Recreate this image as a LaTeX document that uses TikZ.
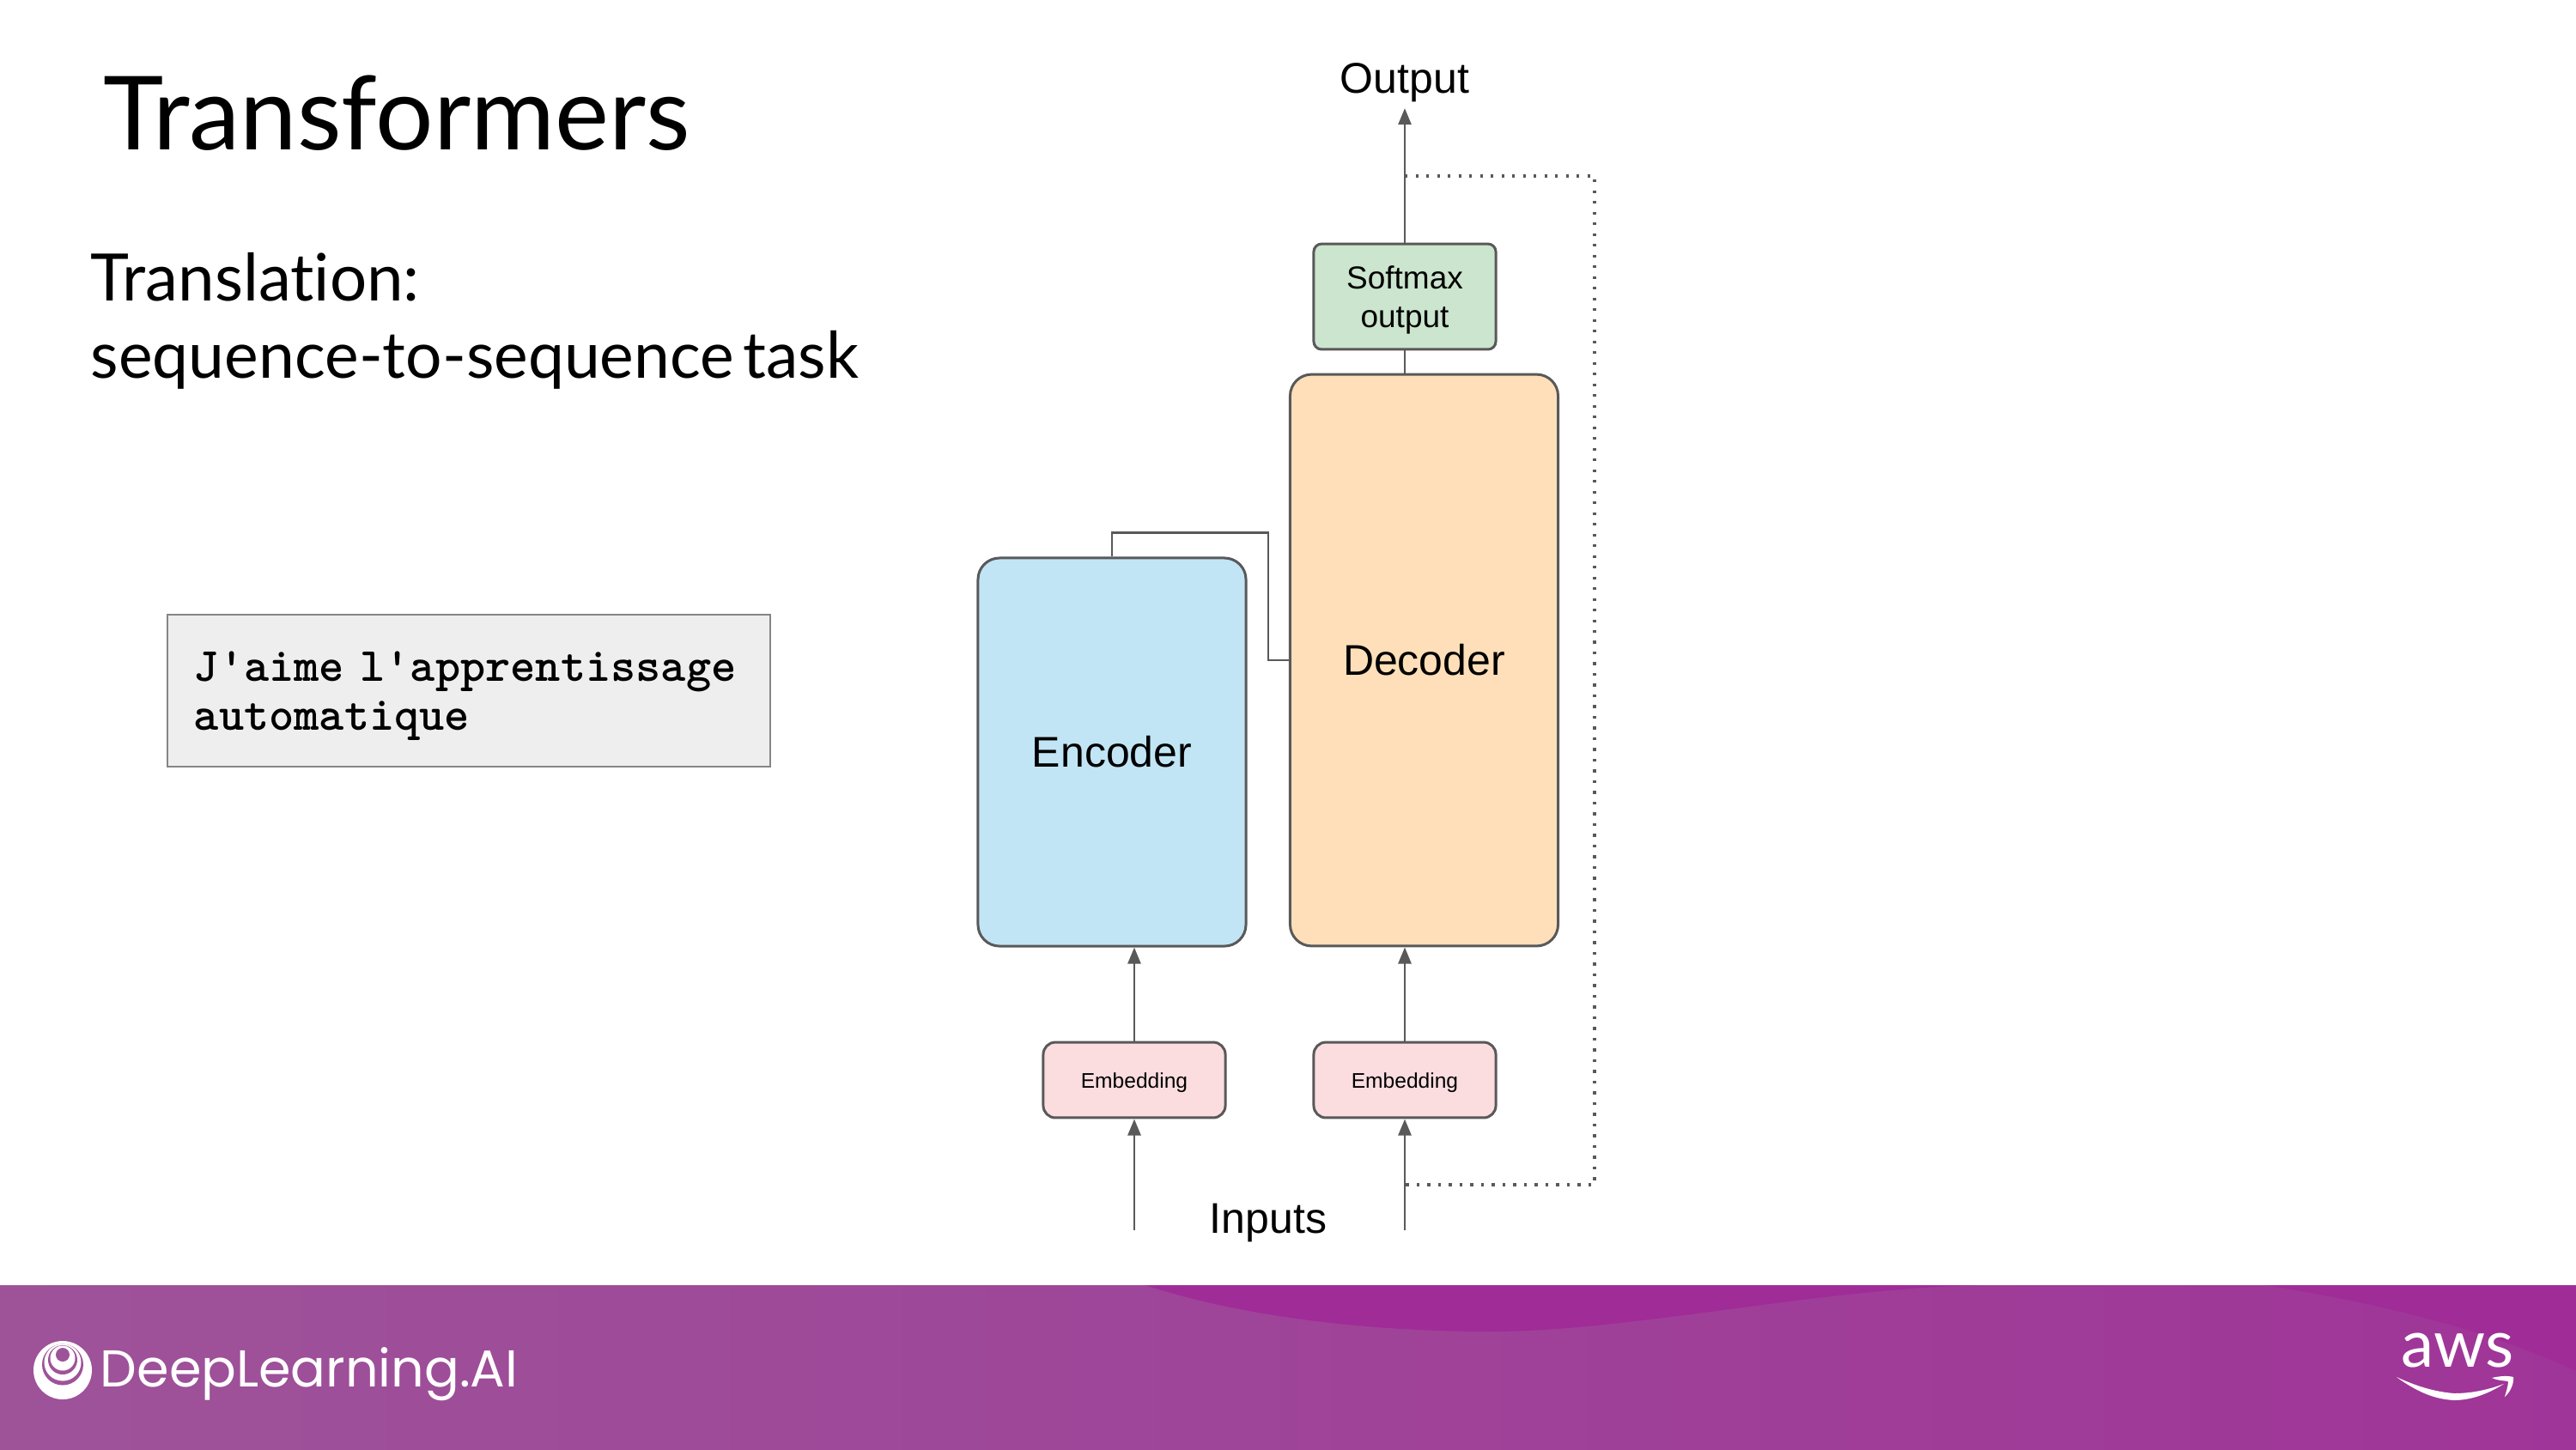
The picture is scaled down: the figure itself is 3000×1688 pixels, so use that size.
\documentclass[tikz,border=0pt]{standalone}
\usepackage{fontspec}
\usetikzlibrary{arrows.meta,calc}
\setmainfont{Liberation Sans}
\newfontfamily\latofont{Lato}[Ligatures=NoCommon,WordSpace=0.55]
\newfontfamily\popfont{Poppins}
\definecolor{edge}{HTML}{595959}
\definecolor{barleft}{HTML}{9E5399}
\definecolor{barright}{HTML}{9F3598}
\definecolor{barwave}{HTML}{A02C98}
\definecolor{encfill}{HTML}{C1E5F5}
\definecolor{decfill}{HTML}{FEDFB9}
\definecolor{softfill}{HTML}{CCE5CE}
\definecolor{embfill}{HTML}{FBDDE0}
\definecolor{codefill}{HTML}{EEEEEE}
\definecolor{codeedge}{HTML}{858585}
\tikzset{
  x=0.24pt, y=-0.24pt,
  block/.style={draw=edge, line width=0.72pt, inner sep=0pt, align=center, text=black},
  bigblock/.style={block, rounded corners=6pt, minimum width=74.9pt, font=\fontsize{12}{14.4}\selectfont},
  smallblock/.style={block, rounded corners=3.4pt, minimum width=50.9pt, minimum height=21.1pt,
    fill=embfill, font=\fontsize{5.9}{7}\selectfont},
  link/.style={draw=edge, line width=0.7pt},
  flow/.style={link, -{Triangle[length=4.6pt,width=3.6pt]}},
  feedback/.style={draw=edge, line width=0.8pt, dash pattern=on 0.8pt off 2.2pt},
  axislabel/.style={text=black, inner sep=0pt, font=\fontsize{12}{14.4}\selectfont},
  heading/.style={anchor=base west, inner sep=0pt, text=black, font=\latofont\fontsize{28.6}{33}\selectfont},
  subheading/.style={anchor=base west, inner sep=0pt, text=black, font=\latofont\fontsize{18}{21.6}\selectfont},
}
\begin{document}
\begin{tikzpicture}
  \useasboundingbox (0,0) rectangle (3000,1688);
  \fill[white] (0,0) rectangle (3000,1688);

  % Footer band with its darker waves
  \shade[left color=barleft, right color=barright] (0,1497) rectangle (3000,1688);
  \fill[barwave] (1334,1497) .. controls (1450,1535) and (1600,1551) .. (1736,1551)
     .. controls (1900,1551) and (2120,1500) .. (2310,1497) -- cycle;
  \fill[barwave] (2640,1497) .. controls (2780,1520) and (2900,1550) .. (3000,1597) -- (3000,1497) -- cycle;

  % Footer logos
  \fill[white] (73,1596) circle [radius=34];
  \fill[barleft] (73,1589.5) circle [radius=24];
  \fill[white] (73,1587) circle [radius=21.5];
  \fill[barleft] (73,1584) circle [radius=17];
  \fill[white] (73,1582) circle [radius=14.5];
  \fill[barleft] (73,1578) circle [radius=8];
  \node[anchor=base west, inner sep=0pt, text=white, font=\popfont\fontsize{14.5}{16}\selectfont] (brand) at (116,1615) {DeepLearning.AI};
  \node[anchor=base west, inner sep=0pt, text=white, font=\latofont\fontsize{18.4}{23}\selectfont] (cloud) at (2796,1592) {aws};
  \fill[white] (2791,1604) .. controls (2820,1625) and (2840,1630) .. (2858,1631)
     .. controls (2880,1631) and (2900,1622) .. (2916,1612)
     .. controls (2900,1618) and (2880,1623) .. (2858,1623)
     .. controls (2835,1621) and (2815,1615) .. (2791,1604) -- cycle;
  \fill[white] (2902,1605) .. controls (2910,1603) and (2920,1602) .. (2927,1604)
     .. controls (2928,1612) and (2923,1622) .. (2917,1627)
     .. controls (2919,1620) and (2921,1614) .. (2921,1609)
     .. controls (2915,1608) and (2908,1608) .. (2902,1605) -- cycle;

  % Slide text
  \node[heading] (title) at (120,174) {Transformers};
  \node[subheading, font=\latofont\fontsize{18.3}{21.6}\selectfont] (task1) at (105,350) {Translation:};
  \node[subheading] (task2) at (105,440) {sequence-to-sequence task};

  % Example sentence
  \node[draw=codeedge, line width=0.4pt, fill=codefill, minimum width=168.5pt, minimum height=42.5pt,
        inner xsep=7.4pt, inner ysep=0pt, text width=153.7pt, align=left, text=black,
        font=\ttfamily\bfseries\fontsize{13.35}{13.7}\selectfont] (sentence) at (546,804.5)
        {\rule{0pt}{11.4pt}J'aime l'apprentissage\\automatique};

  % Model blocks
  \node[bigblock, fill=encfill, minimum height=108.5pt] (enc) at (1295,876) {Encoder};
  \node[bigblock, fill=decfill, minimum height=159.8pt] (dec) at (1658.5,769) {Decoder};
  \node[block, fill=softfill, rounded corners=2.2pt, minimum width=50.9pt, minimum height=29.5pt,
        font=\fontsize{8.88}{10.8}\selectfont] (soft) at (1636,345.5) {\rule{0pt}{8.3pt}Softmax\\output};
  \node[smallblock] (emba) at (1321,1258) {\rule{0pt}{6pt}Embedding};
  \node[smallblock] (embb) at (1636,1258) {\rule{0pt}{6pt}Embedding};

  % Free ends of the flows
  \coordinate (out) at (1636,126);
  \coordinate (ina) at (1321,1433);
  \coordinate (inb) at (1636,1433);
  \coordinate (tapout) at (1636,205);
  \coordinate (tapin) at (1636,1380);

  % Labels
  \node[axislabel, anchor=base] (outlabel) at (1636,108) {Output};
  \node[axislabel, anchor=base] (inlabel) at (1477,1436) {Inputs};

  % Connectors
  \draw[flow] (soft.north) -- (out);
  \draw[link] (soft.south) -- (soft.south |- dec.north);
  \draw[link] (enc.north) -- ++(0,-28) -| (1477,769) -- (dec.west |- 1477,769);
  \draw[flow] (emba.north) -- (emba.north |- enc.south);
  \draw[flow] (embb.north) -- (embb.north |- dec.south);
  \draw[flow] (ina) -- (emba.south);
  \draw[flow] (inb) -- (embb.south);
  \draw[feedback] (tapout) -- (1857,205) -- (1857,1380) -- (tapin);
\end{tikzpicture}
\end{document}
